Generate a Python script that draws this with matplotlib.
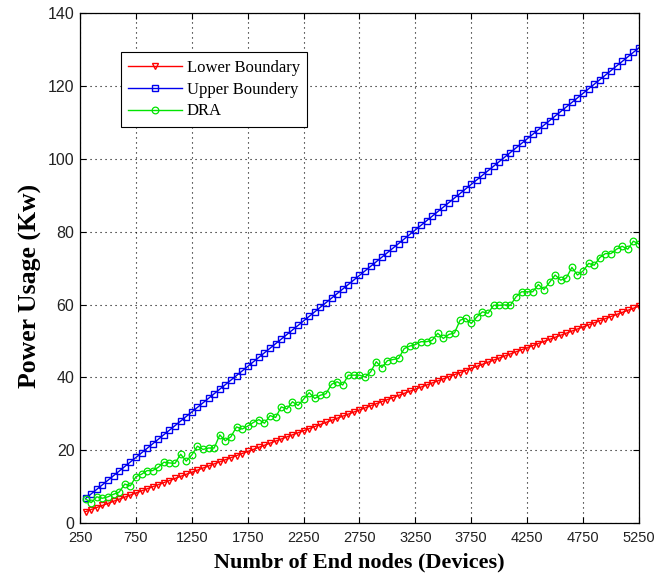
import matplotlib
matplotlib.use("Agg")
import matplotlib.pyplot as plt
import numpy as np

# Number of end nodes (devices), one sample every 50 devices
nodes = list(range(300, 5251, 50))

# Power usage (Kw) for each bound and for DRA
lower_boundary = [
    3.12, 3.69, 4.26, 4.83, 5.40, 5.97, 6.54, 7.11, 7.68, 8.25,
    8.82, 9.39, 9.96, 10.53, 11.10, 11.67, 12.24, 12.81, 13.38, 13.95,
    14.52, 15.09, 15.66, 16.23, 16.80, 17.37, 17.94, 18.51, 19.08, 19.65,
    20.22, 20.79, 21.36, 21.93, 22.50, 23.07, 23.64, 24.21, 24.78, 25.35,
    25.92, 26.49, 27.06, 27.63, 28.20, 28.77, 29.34, 29.91, 30.48, 31.05,
    31.62, 32.19, 32.76, 33.33, 33.90, 34.47, 35.04, 35.61, 36.18, 36.75,
    37.32, 37.89, 38.46, 39.03, 39.60, 40.17, 40.74, 41.31, 41.88, 42.45,
    43.02, 43.59, 44.16, 44.73, 45.30, 45.87, 46.44, 47.01, 47.58, 48.15,
    48.72, 49.29, 49.86, 50.43, 51.00, 51.57, 52.14, 52.71, 53.28, 53.85,
    54.42, 54.99, 55.56, 56.13, 56.70, 57.27, 57.84, 58.41, 58.98, 59.55,
]
upper_boundary = [
    6.75, 8.0, 9.25, 10.5, 11.75, 13.0, 14.25, 15.5, 16.75, 18.0,
    19.25, 20.5, 21.75, 23.0, 24.25, 25.5, 26.75, 28.0, 29.25, 30.5,
    31.75, 33.0, 34.25, 35.5, 36.75, 38.0, 39.25, 40.5, 41.75, 43.0,
    44.25, 45.5, 46.75, 48.0, 49.25, 50.5, 51.75, 53.0, 54.25, 55.5,
    56.75, 58.0, 59.25, 60.5, 61.75, 63.0, 64.25, 65.5, 66.75, 68.0,
    69.25, 70.5, 71.75, 73.0, 74.25, 75.5, 76.75, 78.0, 79.25, 80.5,
    81.75, 83.0, 84.25, 85.5, 86.75, 88.0, 89.25, 90.5, 91.75, 93.0,
    94.25, 95.5, 96.75, 98.0, 99.25, 100.5, 101.75, 103.0, 104.25, 105.5,
    106.75, 108.0, 109.25, 110.5, 111.75, 113.0, 114.25, 115.5, 116.75, 118.0,
    119.25, 120.5, 121.75, 123.0, 124.25, 125.5, 126.75, 128.0, 129.25, 130.5,
]
dra = [
    6.6, 5.6, 7.2, 6.8, 7.2, 7.9, 8.5, 10.7, 10.2, 12.7,
    13.4, 14.4, 14.4, 15.3, 16.7, 16.5, 16.4, 18.9, 17.0, 18.7,
    21.1, 20.2, 20.6, 20.6, 24.2, 22.6, 23.7, 26.4, 25.8, 26.6,
    27.6, 28.4, 27.4, 29.5, 29.0, 31.9, 31.3, 33.3, 32.3, 34.0,
    35.8, 34.2, 35.1, 35.5, 38.1, 38.8, 37.9, 40.6, 40.6, 40.6,
    40.1, 41.5, 44.3, 42.7, 44.6, 44.9, 45.2, 47.9, 48.6, 49.0,
    49.8, 49.8, 50.2, 52.1, 50.7, 51.8, 52.2, 55.7, 56.2, 54.8,
    56.6, 58.0, 57.6, 59.8, 59.8, 59.9, 59.8, 62.1, 63.5, 63.5,
    63.5, 65.5, 64.1, 66.1, 68.1, 66.7, 67.3, 70.2, 68.1, 69.2,
    71.3, 70.8, 72.9, 74.0, 74.0, 75.2, 76.0, 75.2, 77.4, 76.6,
]

x_ticks = list(range(250, 5251, 500))
y_ticks = list(range(0, 141, 20))

fig = plt.figure(figsize=(6.56, 5.75), dpi=100)
ax = fig.add_axes([0.122, 0.0904, 0.852, 0.8866])

ax.plot(nodes, lower_boundary, color="#ff0000", lw=1.0, marker="v",
        ms=4.2, mfc="none", mew=1.0, label="Lower Boundary")
ax.plot(nodes, upper_boundary, color="#0000ee", lw=1.0, marker="s",
        ms=4.2, mfc="none", mew=1.0, label="Upper Boundery")
ax.plot(nodes, dra, color="#00e400", lw=1.0, marker="o",
        ms=4.8, mfc="none", mew=0.9, label="DRA")

ax.set_xlim(250, 5250)
ax.set_ylim(0, 140)
ax.set_xticks(x_ticks)
ax.set_yticks(y_ticks)
ax.grid(True, color="black", linestyle=(0, (1, 3.5)), linewidth=0.8)

for side in ax.spines.values():
    side.set_linewidth(0.9)
ax.tick_params(direction="in", top=True, right=True, length=4, width=0.8)
ax.tick_params(axis="x", pad=6, labelsize=10.5)
ax.tick_params(axis="y", pad=4, labelsize=11.5)
for lab in ax.get_xticklabels() + ax.get_yticklabels():
    lab.set_fontfamily("Liberation Sans")
    lab.set_color("#222222")

ax.set_xlabel("Numbr of End nodes (Devices)", fontfamily="Liberation Serif",
              fontweight="bold", fontsize=16, labelpad=5)
ax.set_ylabel("Power Usage (Kw)", fontfamily="Liberation Serif",
              fontweight="bold", fontsize=18.5)
ax.yaxis.set_label_coords(-0.068, 0.465)

leg = ax.legend(loc="upper left", bbox_to_anchor=(0.073, 0.9235),
                borderaxespad=0, fancybox=False, framealpha=1,
                edgecolor="black", handlelength=3.2, handletextpad=0.3,
                labelspacing=0.35, borderpad=0.45,
                prop={"family": "Liberation Serif", "size": 12})
leg.get_frame().set_linewidth(0.8)

fig.savefig("out.png", dpi=100)
